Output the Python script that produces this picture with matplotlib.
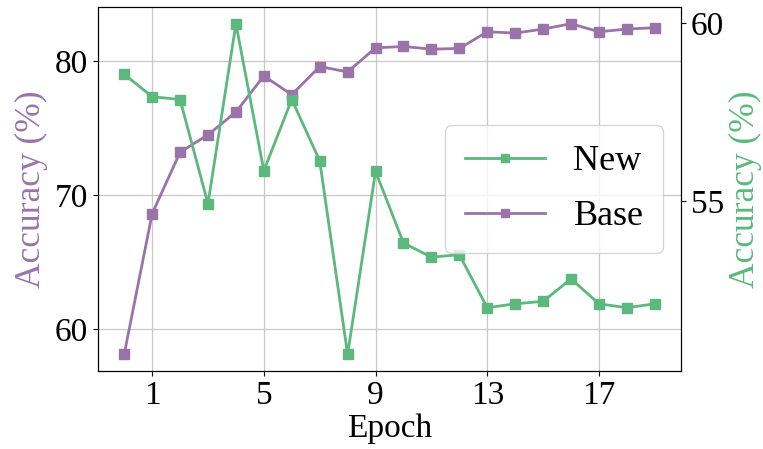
import matplotlib
matplotlib.use('Agg')
import matplotlib.pyplot as plt
import numpy as np

plt.rcParams['font.family'] = ['Liberation Serif', 'DejaVu Serif']
plt.rcParams['font.size'] = 24

# 数据：每个epoch的准确率
epochs = np.arange(0, 20)
base_acc = [58.1, 68.6, 73.2, 74.5, 76.2, 78.9, 77.5, 79.6, 79.2, 81.0,
            81.1, 80.9, 80.95, 82.2, 82.1, 82.4, 82.8, 82.2, 82.4, 82.5]
new_acc = [58.56, 57.93, 57.85, 54.92, 59.98, 55.85, 57.85, 56.13, 50.69, 55.83,
           53.82, 53.42, 53.49, 52.0, 52.11, 52.18, 52.81, 52.11, 52.0, 52.11]
xticks = [1, 5, 9, 13, 17]
left_ticks = [60, 70, 80]
right_ticks = [55, 60]

purple = '#9a74a8'
green = '#5cb87c'

fig, ax = plt.subplots(figsize=(7.63, 4.49), dpi=100)
fig.subplots_adjust(left=0.128, right=0.893, top=0.984, bottom=0.174)

l1, = ax.plot(epochs, base_acc, color=purple, marker='s', markersize=7.5,
              linewidth=2, label='Base')
ax.set_ylabel('Accuracy (%)', color=purple, fontsize=25.5, labelpad=5)
ax.set_xlabel('Epoch', labelpad=2)
ax.set_xticks(xticks)
ax.set_yticks(left_ticks)
ax.grid(True, color='#c8c8c8', linewidth=0.9)

ax2 = ax.twinx()
l2, = ax2.plot(epochs, new_acc, color=green, marker='s', markersize=7.5,
               linewidth=2, label='New')
ax2.set_ylabel('Accuracy (%)', color=green, fontsize=25.5, labelpad=3)
ax2.set_yticks(right_ticks)

ax2.legend(handles=[l2, l1], loc='center right', markerscale=0.7,
           handlelength=2.2, handletextpad=0.8, labelspacing=0.6,
           borderpad=0.55, fontsize=26)

fig.savefig('out.png', dpi=100)
